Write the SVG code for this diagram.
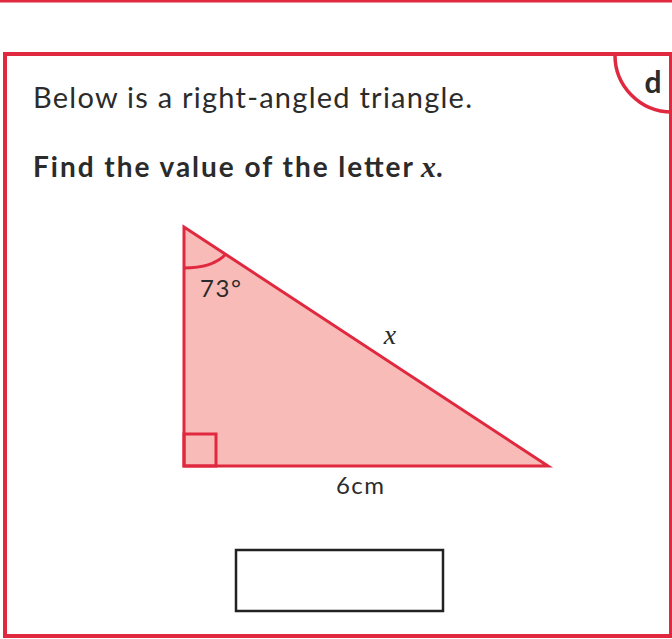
<svg xmlns="http://www.w3.org/2000/svg" width="672" height="639" viewBox="0 0 672 639">
<style>
.red{stroke:#e0283f;fill:none}
.t{font-family:Lato,"Open Sans",sans-serif;fill:#2b2b2b}
.x{font-family:"Liberation Serif",serif;font-style:italic;fill:#2b2b2b}
</style>
<rect width="672" height="639" fill="#fff"/>
<line x1="0" y1="1" x2="672" y2="1" class="red" stroke-width="3"/>
<g id="frame">
<path d="M671,54 H5 V636 H671 Z" class="red" stroke-width="4"/>
<path d="M615,54 A57,57 0 0 0 672,112" class="red" stroke-width="3.5"/>
<text x="653" y="93" class="t" font-size="30" font-weight="bold" text-anchor="middle">d</text>
</g>
<g id="question">
<text x="33" y="108" class="t" font-size="29" textLength="439" lengthAdjust="spacing">Below is a right-angled triangle.</text>
<text x="33" y="177" class="t" font-size="28" font-weight="bold" textLength="380" lengthAdjust="spacing">Find the value of the letter</text>
<text x="421" y="177" class="x" font-size="30" font-weight="bold">x<tspan class="t" font-style="normal" font-size="28">.</tspan></text>
</g>
<g id="triangle">
<polygon points="184,227 184,466 548,466" fill="#f9bbb7" stroke="#e0283f" stroke-width="3" stroke-linejoin="miter"/>
<rect x="184" y="434" width="32" height="32" class="red" stroke-width="3"/>
<path d="M184,268 Q213,268 226,254" class="red" stroke-width="3"/>
<text x="200" y="297" class="t" font-size="24" textLength="41" lengthAdjust="spacing">73°</text>
<text x="390" y="344" class="x" font-size="28" text-anchor="middle">x</text>
<text x="336" y="494" class="t" font-size="24" textLength="48" lengthAdjust="spacing">6cm</text>
</g>
<g id="answer">
<rect x="236" y="550" width="207" height="61" fill="#fff" stroke="#222" stroke-width="2.5"/>
</g>
</svg>
